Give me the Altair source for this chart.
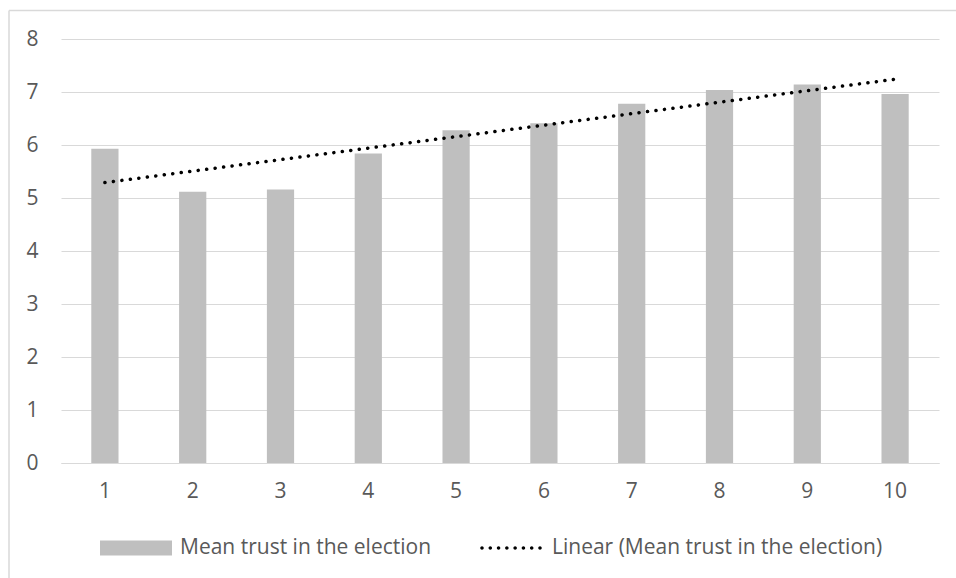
import altair as alt
import pandas as pd

# Mean trust in the election by group (1-10)
groups = [1, 2, 3, 4, 5, 6, 7, 8, 9, 10]
mean_trust = [5.93, 5.12, 5.16, 5.84, 6.28, 6.41, 6.78, 7.04, 7.14, 6.96]
y_ticks = [0, 1, 2, 3, 4, 5, 6, 7, 8]

BAR_LABEL = "Mean trust in the election"
TREND_LABEL = "Linear (Mean trust in the election)"

FONT = "Open Sans"
FONT_SIZE = 21
TEXT = "#595959"
GRID = "#D9D9D9"
BAR = "#BFBFBF"

W, H = 878, 424
PAD = {"left": 61, "top": 39, "right": 17, "bottom": 115}

df = pd.DataFrame({"group": groups, "trust": mean_trust})
df["series"] = BAR_LABEL

# legend swatches: a wide flat rectangle, and a row of round dots
SWATCH_W = 72
DOTS_W = 58
swatch_path = "M-1,-0.21H1V0.21H-1Z"
dot_r = 0.06
dot_xs = [-1 + i * (2 / 7) for i in range(8)]
dots_path = "".join(
    f"M{x - dot_r:.4f},0a{dot_r},{dot_r} 0 1,0 {2 * dot_r:.4f},0a{dot_r},{dot_r} 0 1,0 {-2 * dot_r:.4f},0Z"
    for x in dot_xs
)
LEGEND_MID = 509  # vertical centre of the legend row, from the top of the plot

x_enc = alt.X(
    "group:O",
    title=None,
    scale=alt.Scale(paddingInner=0.69, paddingOuter=0.345),
    axis=alt.Axis(labelAngle=0, ticks=False, domainColor=GRID, labelPadding=17, grid=False),
)

bars = alt.Chart(df).mark_bar(color=BAR).encode(
    x=x_enc,
    y=alt.Y(
        "trust:Q",
        title=None,
        scale=alt.Scale(domain=[0, 8], nice=False),
        axis=alt.Axis(values=y_ticks, ticks=False, domain=False, gridColor=GRID, labelPadding=23),
    ),
    color=alt.Color(
        "series:N",
        scale=alt.Scale(domain=[BAR_LABEL], range=[BAR]),
        legend=alt.Legend(
            title=None,
            orient="none",
            legendX=39,
            legendY=LEGEND_MID - SWATCH_W / 2,
            symbolType=swatch_path,
            symbolSize=SWATCH_W * SWATCH_W,
            symbolStrokeWidth=0,
            labelOffset=8,
            padding=0,
        ),
    ),
)

trend = (
    alt.Chart(df)
    .transform_regression("group", "trust", method="linear")
    .transform_calculate(series=f"'{TREND_LABEL}'")
    .mark_line(strokeWidth=3.5, strokeDash=[0.1, 8.45], strokeCap="round")
    .encode(
        x="group:O",
        y="trust:Q",
        stroke=alt.Stroke(
            "series:N",
            scale=alt.Scale(domain=[TREND_LABEL], range=["#000000"]),
            legend=alt.Legend(
                title=None,
                orient="none",
                legendX=421,
                legendY=LEGEND_MID - DOTS_W / 2,
                symbolType=dots_path,
                symbolSize=DOTS_W * DOTS_W,
                symbolFillColor="#000000",
                symbolStrokeWidth=0,
                labelOffset=12,
                padding=0,
            ),
        ),
    )
)

# thin chart-area frame along the top and left edges
frame_df = pd.DataFrame({"k": [0]})
frame_left = alt.Chart(frame_df).mark_rule(color=GRID, strokeWidth=1.5).encode(
    x=alt.value(-52), y=alt.value(-28.5), y2=alt.value(H + 200)
)
frame_top = alt.Chart(frame_df).mark_rule(color=GRID, strokeWidth=1.5).encode(
    x=alt.value(-52), x2=alt.value(W + 100), y=alt.value(-28.5)
)

chart = (
    alt.layer(frame_left, frame_top, bars, trend)
    .resolve_scale(color="independent")
    .properties(
        width=W,
        height=H,
        padding=PAD,
        background="white",
        autosize=alt.AutoSizeParams(type="none"),
    )
    .configure_view(stroke=None)
    .configure_axis(labelFont=FONT, labelFontSize=FONT_SIZE, labelColor=TEXT)
    .configure_legend(labelFont=FONT, labelFontSize=FONT_SIZE, labelColor=TEXT, labelLimit=0)
)

chart.save("out.html", embed_options={"renderer": "svg", "actions": False})
